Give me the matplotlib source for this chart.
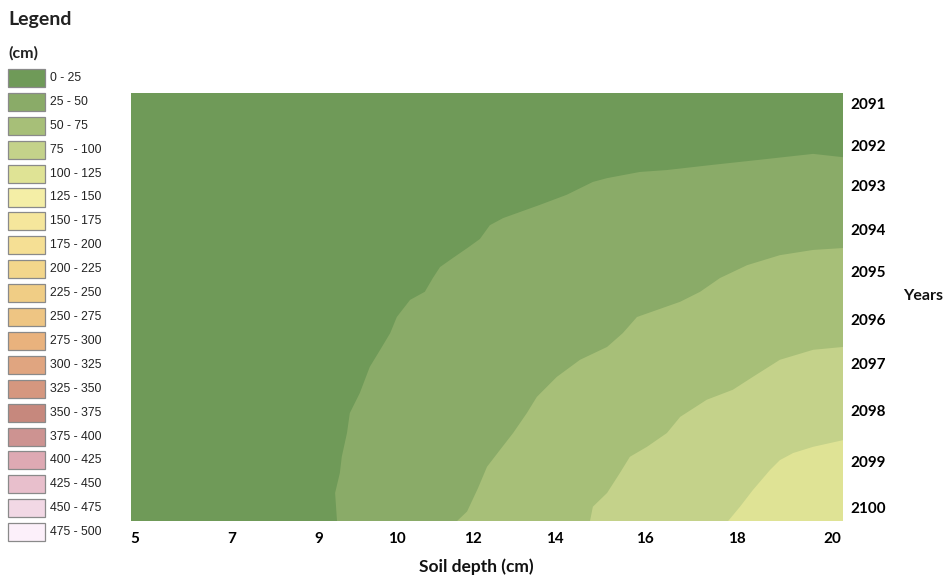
import matplotlib
matplotlib.use("Agg")
import matplotlib.pyplot as plt
from matplotlib.patches import Rectangle

# ---------------- data ----------------
# class boundaries (soil depth in cm, year) read from the map,
# each running from the bottom edge (2100) to the right edge (depth 20)
b25_depth = [9.34, 9.30, 9.40, 9.44, 9.55, 9.61, 9.82, 10.03, 10.25, 10.46, 10.60, 10.88,
             11.19, 11.36, 11.51, 11.78, 12.10, 12.35, 12.56, 12.84, 13.62, 14.18, 14.73,
             15.03, 15.72, 16.29, 17.26, 18.19, 19.37, 20.0]
b25_year = [2100.0, 2099.41, 2098.99, 2098.65, 2098.15, 2097.73, 2097.31, 2096.76, 2096.40,
            2096.05, 2095.71, 2095.35, 2095.18, 2094.89, 2094.66, 2094.47, 2094.25, 2094.07,
            2093.78, 2093.63, 2093.35, 2093.14, 2092.87, 2092.79, 2092.66, 2092.62, 2092.51,
            2092.41, 2092.28, 2092.35]

b50_depth = [11.87, 12.08, 12.31, 12.50, 12.77, 13.05, 13.34, 13.55, 13.97, 14.46, 15.03,
             15.36, 15.66, 16.57, 16.99, 17.41, 17.98, 18.67, 19.37, 20.0]
b50_year = [2100.0, 2099.80, 2099.31, 2098.86, 2098.51, 2098.15, 2097.73, 2097.39, 2096.97,
            2096.61, 2096.34, 2096.05, 2095.71, 2095.39, 2095.18, 2094.89, 2094.62, 2094.41,
            2094.30, 2094.26]

b75_depth = [14.67, 14.73, 15.03, 15.30, 15.51, 15.87, 16.29, 16.57, 17.13, 17.68, 18.10,
             18.67, 19.37, 20.0]
b75_year = [2100.0, 2099.70, 2099.41, 2098.99, 2098.65, 2098.44, 2098.15, 2097.81, 2097.45,
            2097.24, 2096.97, 2096.61, 2096.40, 2096.34]

b100_depth = [17.58, 17.83, 18.10, 18.46, 18.67, 18.95, 19.37, 20.0]
b100_year = [2100.0, 2099.70, 2099.35, 2098.93, 2098.72, 2098.57, 2098.44, 2098.30]

class_labels = ["0 - 25", "25 - 50", "50 - 75", "75   - 100", "100 - 125", "125 - 150",
                "150 - 175", "175 - 200", "200 - 225", "225 - 250", "250 - 275",
                "275 - 300", "300 - 325", "325 - 350", "350 - 375", "375 - 400",
                "400 - 425", "425 - 450", "450 - 475", "475 - 500"]

depth_labels = ["5", "7", "9", "10", "12", "14", "16", "18", "20"]
year_labels = ["2091", "2092", "2093", "2094", "2095", "2096", "2097", "2098", "2099", "2100"]

# ---------------- layout / style ----------------
class_colors = ["#6f9a58", "#8aab68", "#a7bf78", "#c4d28a", "#dfe395", "#f4eea6",
                "#f5e69c", "#f5df94", "#f3d68b", "#f0cd85", "#eec583", "#e9b27d",
                "#e0a580", "#d5977f", "#c6887d", "#cd9391", "#dea9b3", "#e8bfcc",
                "#f2d8e5", "#fcf0fa"]
depth_tick_pos = [5.08, 7.13, 8.96, 10.60, 12.20, 13.93, 15.83, 17.77, 19.77]
year_tick_pos = [2091.23, 2092.11, 2092.95, 2093.86, 2094.76, 2095.77, 2096.69,
                 2097.68, 2098.75, 2099.72]

W, H = 947, 588
fig = plt.figure(figsize=(W / 100, H / 100), dpi=100)
fig.patch.set_facecolor("white")

ax = fig.add_axes([131 / W, 1 - 521 / H, (843 - 131) / W, (521 - 93) / H])
ax.set_xlim(5, 20)
ax.set_ylim(2100, 2091)
ax.set_facecolor(class_colors[0])
for s in ax.spines.values():
    s.set_visible(False)

boundaries = [(b25_depth, b25_year), (b50_depth, b50_year),
              (b75_depth, b75_year), (b100_depth, b100_year)]
for k, (bx, by) in enumerate(boundaries):
    xs = list(bx) + [20.0, 20.0]
    ys = list(by) + [2100.0, 2100.0]
    ax.fill(xs, ys, color=class_colors[k + 1], lw=0, zorder=2 + k)

tick_font = dict(family=["Lato", "DejaVu Sans"], weight="bold", size=11)
ax.set_xticks(depth_tick_pos)
ax.set_xticklabels(depth_labels, **tick_font)
ax.yaxis.tick_right()
ax.set_yticks(year_tick_pos)
ax.set_yticklabels(year_labels, ha="left", **tick_font)
ax.tick_params(axis="x", length=0, pad=8)
ax.tick_params(axis="y", length=0, pad=5)

fig.text(476 / W, 1 - 567 / H, "Soil depth (cm)", ha="center", va="center",
         family=["Lato", "DejaVu Sans"], weight="bold", fontsize=12.5, color="#111111")
fig.text(923 / W, 1 - 296 / H, "Years", ha="center", va="center",
         family=["Lato", "DejaVu Sans"], weight="bold", fontsize=11.5, color="#111111")

# legend
fig.text(8 / W, 1 - 20 / H, "Legend", ha="left", va="center",
         family=["Lato", "DejaVu Sans"], weight="bold", fontsize=14, color="#222222")
fig.text(8 / W, 1 - 53 / H, "(cm)", ha="left", va="center",
         family=["Lato", "DejaVu Sans"], weight="bold", fontsize=11.5, color="#222222")
for i, (lab, col) in enumerate(zip(class_labels, class_colors)):
    yc = 78 + i * 23.9
    fig.add_artist(Rectangle((8 / W, 1 - (yc + 9) / H), 37 / W, 18 / H,
                             transform=fig.transFigure, facecolor=col,
                             edgecolor="#8a8a8a", lw=0.9))
    fig.text(50 / W, 1 - yc / H, lab, ha="left", va="center",
             family=["Liberation Sans", "DejaVu Sans"], fontsize=8.8, color="#222222")

fig.savefig("out.png", dpi=100)
